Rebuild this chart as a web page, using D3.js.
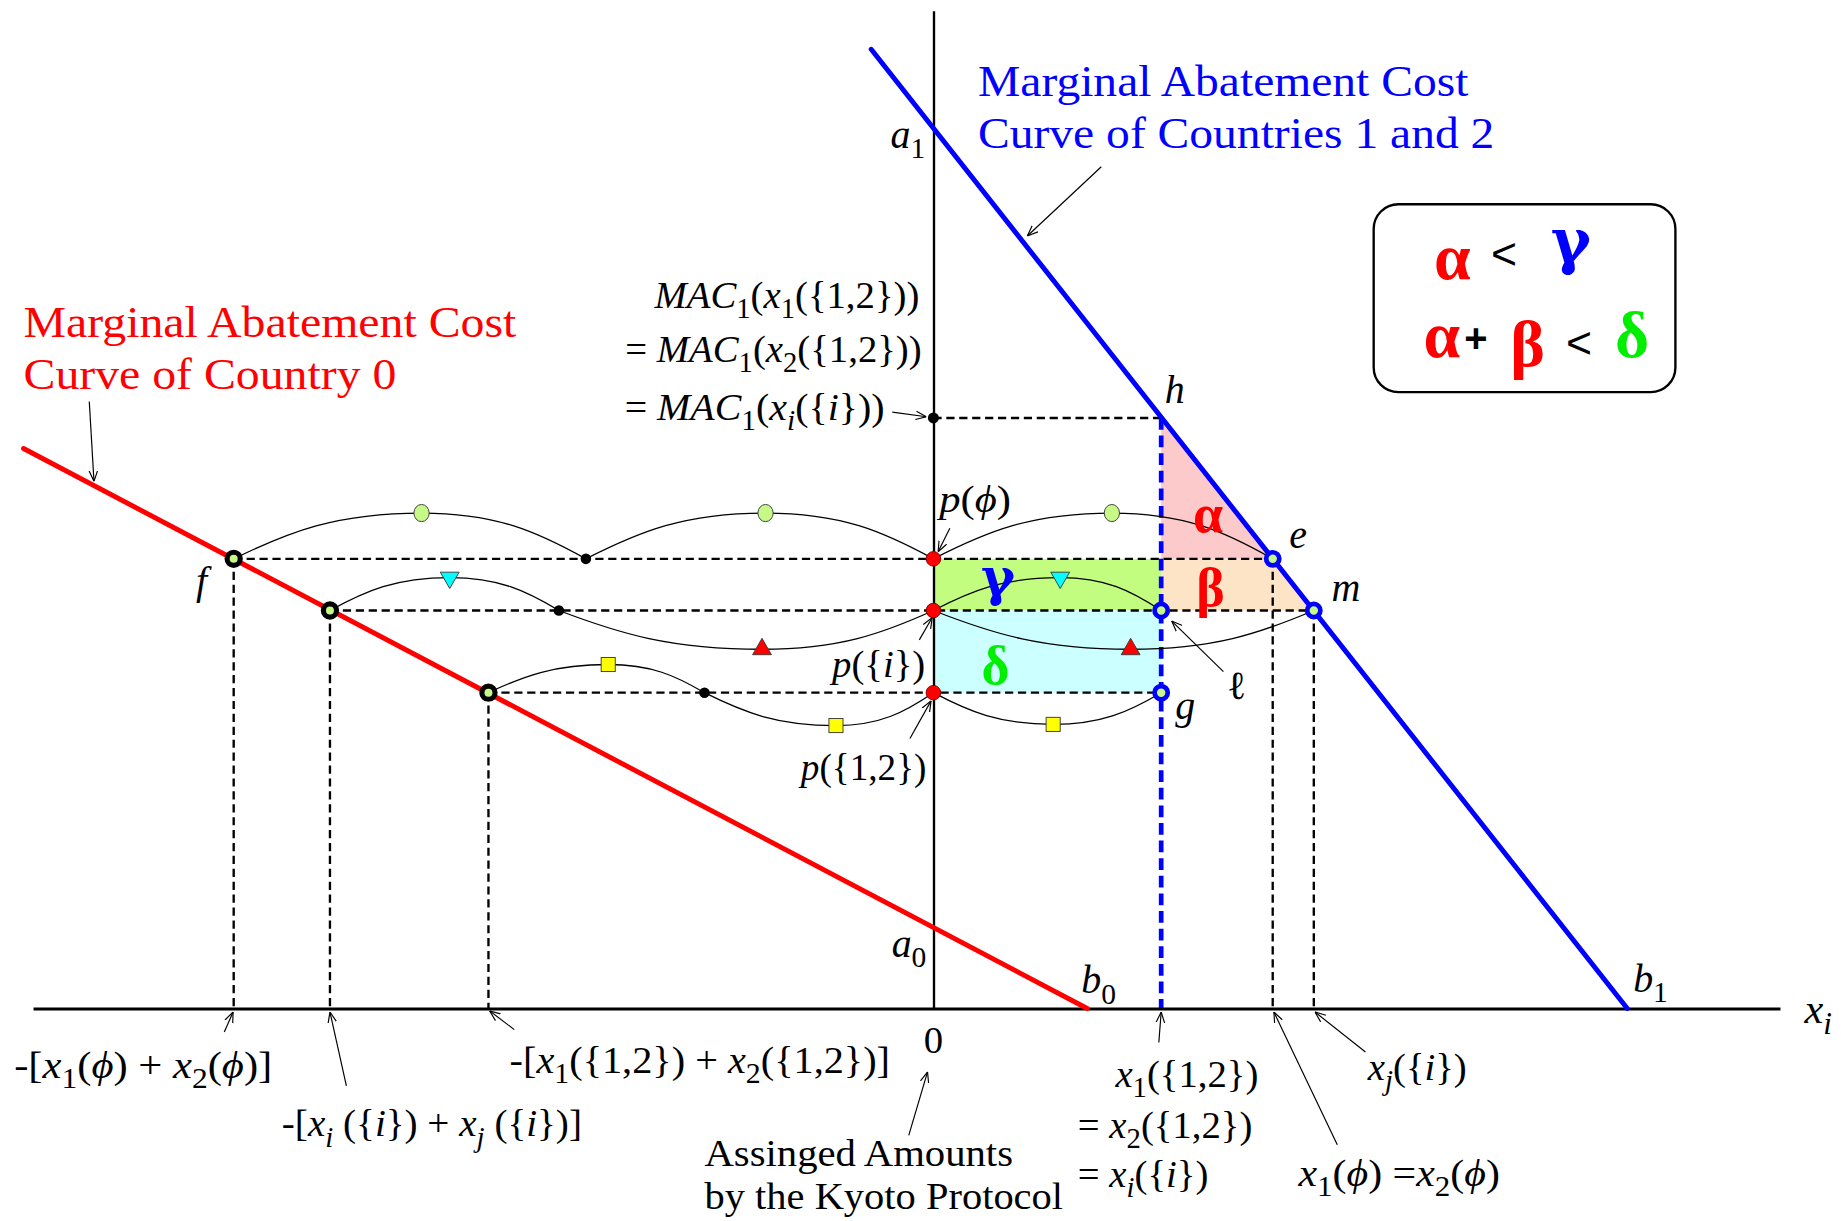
<!DOCTYPE html>
<html>
<head>
<meta charset="utf-8">
<script src="https://cdn.jsdelivr.net/npm/d3@7"></script>
<style>
  html, body { margin: 0; padding: 0; background: #fff; }
  svg { display: block; }
  text { white-space: pre; }
</style>
</head>
<body>
<script>
// ---------------- values (quantity x, price y) ----------------
// Marginal abatement cost curves, drawn between their two end points
const mac0Line  = [[-77.5, 47.7], [13.1, 0]];   // Country 0, ends at b0
const mac12Line = [[-5.3, 81.7], [59.1, 0]];    // Countries 1 and 2, ends at b1

// price levels: MAC1(x1({1,2})), p(φ), p({i}), p({1,2})
const priceMAC = 50.3;
const pPhi = 38.3;
const pI = 33.9;
const p12 = 26.9;

// quantities read on the Country 0 curve at p(φ), p({i}), p({1,2})
const country0Qty = [-59.6, -51.4, -37.9];
const country0Price = [38.3, 33.9, 26.9];
// quantities of countries 1 and 2
const qty12 = 19.4;   // x1({1,2}) = x2({1,2}) = xi({i})
const qtyPhi = 28.9;  // x1(φ) = x2(φ)
const qtyJ = 32.4;    // xj({i})
// split points between the two countries' shares
const splitQty = [-29.6, -31.9, -19.5];

// transfer arcs: from, to, price level, extremum x, extremum price, marker
const arcFrom   = [-59.6, -29.6, 0,    -51.4, -31.9, 0,    0,    -37.9, -19.5, 0];
const arcTo     = [-29.6, 0,     28.9, -31.9, 0,     19.4, 32.4, -19.5, 0,     19.4];
const arcLevel  = [38.3,  38.3,  38.3, 33.9,  33.9,  33.9, 33.9, 26.9,  26.9,  26.9];
const arcPeakX  = [-43.6, -14.3, 15.2, -41.2, -14.6, 10.8, 16.8, -27.7, -8.3,  10.2];
const arcPeakY  = [42.2,  42.2,  42.2, 36.7,  30.6,  36.7, 30.6, 29.3,  24.1,  24.2];
const arcMarker = ["circle", "circle", "circle", "triDown", "triUp", "triDown", "triUp", "square", "square", "square"];

// ---------------- layout ----------------
const VW = 1568, VH = 1040;
const svg = d3.select("body").append("svg")
  .attr("width", 1841).attr("height", 1221)
  .attr("viewBox", `0 0 ${VW} ${VH}`);

const x = d3.scaleLinear().domain([-80, 75]).range([-5, 1545]);
const y = d3.scaleLinear().domain([0, 85]).range([859, 9]);

const SERIF = "'Liberation Serif', 'Times New Roman', serif";
const GREEK_ALT = "'DejaVu Serif', serif";
const SANS = "'Liberation Sans', Arial, sans-serif";
const RED = "#ff0000", BLUE = "#0000ff", GREEN = "#00ee00";
const MARKER_GREEN = "#c6f986";

const defs = svg.append("defs");
defs.append("marker")
  .attr("id", "arrowhead").attr("viewBox", "0 0 10 10")
  .attr("refX", 10).attr("refY", 5)
  .attr("markerWidth", 9).attr("markerHeight", 9)
  .attr("markerUnits", "userSpaceOnUse").attr("orient", "auto")
  .append("path").attr("d", "M0,1 L10,5 L0,9")
  .attr("fill", "none").attr("stroke", "#000").attr("stroke-width", 1.1);

const line = d3.line().x(d => x(d[0])).y(d => y(d[1]));

// ---------------- shaded areas ----------------
const areas = svg.append("g");
areas.append("path") // alpha
  .attr("d", line([[qty12, priceMAC], [qtyPhi, pPhi], [qty12, pPhi]]) + "Z")
  .attr("fill", "#fccaca");
areas.append("path") // beta
  .attr("d", line([[qty12, pPhi], [qtyPhi, pPhi], [qtyJ, pI], [qty12, pI]]) + "Z")
  .attr("fill", "#fde4c6");
areas.append("rect") // gamma
  .attr("x", x(0)).attr("y", y(pPhi))
  .attr("width", x(qty12) - x(0)).attr("height", y(pI) - y(pPhi))
  .attr("fill", "#c2fd80");
areas.append("rect") // delta
  .attr("x", x(0)).attr("y", y(pI))
  .attr("width", x(qty12) - x(0)).attr("height", y(p12) - y(pI))
  .attr("fill", "#ccffff");

// ---------------- dashed guide lines ----------------
const guides = svg.append("g").attr("fill", "none").attr("stroke", "#000")
  .attr("stroke-width", 2).attr("stroke-dasharray", "7,4");
const hGuides = [
  [[country0Qty[0], pPhi], [qtyPhi, pPhi]],
  [[country0Qty[1], pI], [qtyJ, pI]],
  [[country0Qty[2], p12], [qty12, p12]],
  [[0, priceMAC], [qty12, priceMAC]]
];
const vGuides = [
  [[country0Qty[0], pPhi], [country0Qty[0], 0]],
  [[country0Qty[1], pI], [country0Qty[1], 0]],
  [[country0Qty[2], p12], [country0Qty[2], 0]],
  [[qtyPhi, pPhi], [qtyPhi, 0]],
  [[qtyJ, pI], [qtyJ, 0]]
];
hGuides.concat(vGuides).forEach(seg => guides.append("path").attr("d", line(seg)));

svg.append("path")
  .attr("d", line([[qty12, priceMAC], [qty12, 0]]))
  .attr("fill", "none").attr("stroke", BLUE)
  .attr("stroke-width", 4).attr("stroke-dasharray", "10,5");

// ---------------- axes ----------------
const xAxisScale = x.copy().domain([-76.7, 72.1]).range([x(-76.7), x(72.1)]);
svg.append("g").attr("transform", `translate(0,${y(0)})`)
  .call(d3.axisBottom(xAxisScale).tickValues([]).tickSizeOuter(0))
  .call(g => g.select(".domain").attr("stroke", "#000").attr("stroke-width", 2.6));
svg.append("g").attr("transform", `translate(${x(0)},0)`)
  .call(d3.axisLeft(y).tickValues([]).tickSizeOuter(0))
  .call(g => g.select(".domain").attr("stroke", "#000").attr("stroke-width", 2));

// ---------------- MAC curves ----------------
svg.append("path").attr("d", line(mac0Line))
  .attr("stroke", RED).attr("stroke-width", 4.2).attr("stroke-linecap", "round").attr("fill", "none");
svg.append("path").attr("d", line(mac12Line))
  .attr("stroke", BLUE).attr("stroke-width", 4.2).attr("stroke-linecap", "round").attr("fill", "none");

// ---------------- transfer arcs ----------------
function arcPath(i) {
  const x0 = x(arcFrom[i]), x1 = x(arcTo[i]), yl = y(arcLevel[i]);
  const xp = x(arcPeakX[i]), yp = y(arcPeakY[i]);
  const p = d3.path();
  p.moveTo(x0, yl);
  p.bezierCurveTo(x0 + 0.3 * (xp - x0), yl + 0.6 * (yp - yl), xp - 0.45 * (xp - x0), yp, xp, yp);
  p.bezierCurveTo(xp + 0.45 * (x1 - xp), yp, x1 - 0.3 * (x1 - xp), yl + 0.6 * (yp - yl), x1, yl);
  return p.toString();
}
const arcsG = svg.append("g");
arcFrom.forEach((_, i) => {
  arcsG.append("path").attr("d", arcPath(i))
    .attr("fill", "none").attr("stroke", "#000").attr("stroke-width", 1.1);
});

const triSym = d3.symbol().type(d3.symbolTriangle).size(112);
arcFrom.forEach((_, i) => {
  const cx = x(arcPeakX[i]), cy = y(arcPeakY[i]);
  const kind = arcMarker[i];
  if (kind === "circle") {
    arcsG.append("ellipse").attr("cx", cx).attr("cy", cy).attr("rx", 6.5).attr("ry", 7.3)
      .attr("fill", MARKER_GREEN).attr("stroke", "#3a3a3a").attr("stroke-width", 0.8);
  } else if (kind === "square") {
    arcsG.append("rect").attr("x", cx - 6).attr("y", cy - 6).attr("width", 12).attr("height", 12)
      .attr("fill", "#ffff00").attr("stroke", "#3a3a3a").attr("stroke-width", 0.8);
  } else {
    arcsG.append("path").attr("d", triSym())
      .attr("transform", `translate(${cx},${cy})` + (kind === "triDown" ? " rotate(180)" : ""))
      .attr("fill", kind === "triDown" ? "#00ffff" : "#ff0000")
      .attr("stroke", "#3a3a3a").attr("stroke-width", 0.8);
  }
});

// ---------------- points ----------------
const pts = svg.append("g");
// split points between shares
splitQty.forEach((q, k) => {
  pts.append("circle").attr("cx", x(q)).attr("cy", y(country0Price[k])).attr("r", 4.5).attr("fill", "#000");
});
// MAC level on the price axis
pts.append("circle").attr("cx", x(0)).attr("cy", y(priceMAC)).attr("r", 4.7).attr("fill", "#000");
// prices on the axis
[pPhi, pI, p12].forEach(p => {
  pts.append("circle").attr("cx", x(0)).attr("cy", y(p)).attr("r", 6.2)
    .attr("fill", RED).attr("stroke", "#8a0000").attr("stroke-width", 0.8);
});
// Country 0 points
country0Qty.forEach((q, k) => {
  pts.append("circle").attr("cx", x(q)).attr("cy", y(country0Price[k])).attr("r", 5.6)
    .attr("fill", MARKER_GREEN).attr("stroke", "#000").attr("stroke-width", 4.4);
});
// Countries 1 and 2 points: e, m, l, g
[[qtyPhi, pPhi], [qtyJ, pI], [qty12, pI], [qty12, p12]].forEach(d => {
  pts.append("circle").attr("cx", x(d[0])).attr("cy", y(d[1])).attr("r", 5.6)
    .attr("fill", MARKER_GREEN).attr("stroke", BLUE).attr("stroke-width", 4);
});

// ---------------- text helpers ----------------
// "~" toggles italic, "_c" sets the next character as a subscript
function label(str, px, py, opt = {}) {
  const size = opt.size || 33;
  const g = svg.append("g")
    .attr("transform", `translate(${px},${py}) scale(${opt.sx || 1},1)`);
  const t = g.append("text")
    .attr("font-family", opt.family || SERIF)
    .attr("font-size", size)
    .attr("font-weight", opt.weight || "normal")
    .attr("text-anchor", opt.anchor || "start")
    .attr("fill", opt.fill || "#000");
  const segs = [];
  let italic = false;
  for (let i = 0; i < str.length; i++) {
    const c = str[i];
    if (c === "~") { italic = !italic; continue; }
    if (c === "_") { segs.push({ t: str[i + 1], it: italic, sub: true }); i++; continue; }
    const last = segs[segs.length - 1];
    if (last && !last.sub && last.it === italic) last.t += c;
    else segs.push({ t: c, it: italic, sub: false });
  }
  let cur = 0;
  segs.forEach(s => {
    const ts = t.append("tspan").text(s.t).attr("font-style", s.it ? "italic" : "normal");
    const target = s.sub ? size * 0.26 : 0;
    if (target !== cur) { ts.attr("dy", target - cur); cur = target; }
    if (s.sub) ts.attr("font-size", size * 0.74);
  });
  return t;
}
function arrow(x1, y1, x2, y2) {
  svg.append("line").attr("x1", x1).attr("y1", y1).attr("x2", x2).attr("y2", y2)
    .attr("stroke", "#000").attr("stroke-width", 1).attr("marker-end", "url(#arrowhead)");
}

// ---------------- curve titles ----------------
label("Marginal Abatement Cost", 20, 287, { size: 37, fill: RED, sx: 1.1 });
label("Curve of Country 0", 20, 331, { size: 37, fill: RED, sx: 1.1 });
arrow(76, 342, x(-71.5), y(44.5) - 4);

label("Marginal Abatement Cost", 833, 82, { size: 37, fill: BLUE, sx: 1.095 });
label("Curve of Countries 1 and 2", 833, 126, { size: 37, fill: BLUE, sx: 1.095 });
arrow(938, 142, x(7.8) + 2, y(65.8));

// ---------------- point labels ----------------
label("~a~_1", x(0) - 7, y(75) + 17, { size: 34, anchor: "end" });
label("~a~_0", x(0) - 6, 815, { size: 34, anchor: "end" });
label("~b~_0", x(mac0Line[1][0]) - 5, 846, { size: 34 });
label("~b~_1", x(mac12Line[1][0]) + 5, 845, { size: 34 });
label("~x_i~", 1537, 871, { size: 36 });
label("~h~", x(qty12) + 3, y(priceMAC) - 13, { size: 34 });
label("~e~", x(qtyPhi) + 14, y(pPhi) - 9, { size: 34 });
label("~m~", x(qtyJ) + 15, y(pI) - 8, { size: 34 });
label("~f~", x(country0Qty[0]) - 32, y(pPhi) + 30, { size: 34 });
label("~g~", x(qty12) + 12, y(p12) + 22, { size: 34 });
label("ℓ", x(qty12) + 56, y(pI) + 75, { size: 34 });
arrow(1042, 572, x(qty12) + 9, y(pI) + 9);

label("~p~(~ϕ~)", 800, 436, { size: 33, sx: 1.1 });
arrow(809, 450, x(0) + 4, y(pPhi) - 6);
label("~p~({~i~})", 788, 577, { size: 33, anchor: "end" });
arrow(783, 545, x(0) - 1, y(pI) + 6);
label("~p~({1,2})", 789, 664, { size: 33, anchor: "end", sx: 0.96 });
arrow(775, 629, x(0) - 2, y(p12) + 7);

label("~MAC~_1(~x~_1({1,2}))", 783, 262, { size: 33, anchor: "end" });
label("= ~MAC~_1(~x~_2({1,2}))", 785, 308, { size: 33, anchor: "end" });
label("= ~MAC~_1(~x_i~({~i~}))", 532, 358, { size: 33, sx: 1.03 });
arrow(760, 351, x(0) - 6, y(priceMAC) - 1);

// ---------------- area symbols ----------------
label("α", 1029, 453, { size: 46, fill: RED, weight: "bold", anchor: "middle" });
label("β", 1031, 516, { size: 46, fill: RED, weight: "bold", anchor: "middle" });
label("γ", 850, 507, { size: 44, fill: BLUE, weight: "bold", anchor: "middle", family: GREEK_ALT });
label("δ", 848, 583, { size: 46, fill: GREEN, weight: "bold", anchor: "middle" });

// ---------------- inequality box ----------------
svg.append("rect").attr("x", 1170).attr("y", 174).attr("width", 257).attr("height", 160)
  .attr("rx", 21).attr("fill", "#fff").attr("stroke", "#000").attr("stroke-width", 2);
label("α", 1237, 238, { size: 56, fill: RED, weight: "bold", anchor: "middle" });
label("<", 1281, 229, { size: 38, family: SANS, anchor: "middle" });
label("γ", 1338, 223, { size: 52, fill: BLUE, weight: "bold", anchor: "middle", family: GREEK_ALT });
label("α", 1228, 304, { size: 56, fill: RED, weight: "bold", anchor: "middle" });
label("+", 1257, 300, { size: 34, family: SANS, weight: "bold", anchor: "middle" });
label("β", 1301, 312, { size: 56, fill: RED, weight: "bold", anchor: "middle" });
label("<", 1345, 305, { size: 38, family: SANS, anchor: "middle" });
label("δ", 1390, 304, { size: 56, fill: GREEN, weight: "bold", anchor: "middle" });

// ---------------- quantity labels ----------------
label("-[~x~_1(~ϕ~) + ~x~_2(~ϕ~)]", 12, 918, { size: 33, sx: 1.1 });
arrow(191, 879, x(country0Qty[0]) - 0.5, y(0) + 3);
label("-[~x_i~ ({~i~}) + ~x_j~ ({~i~})]", 240, 968, { size: 33, sx: 1.01 });
arrow(295, 925, x(country0Qty[1]), y(0) + 3);
label("-[~x~_1({1,2}) + ~x~_2({1,2})]", 434, 914, { size: 33, sx: 1.04 });
arrow(438, 877, x(country0Qty[2]) + 1, y(0) + 2);

label("0", x(0), 897, { size: 33, anchor: "middle" });
label("Assinged Amounts", 600, 993, { size: 33, sx: 1.05 });
label("by the Kyoto Protocol", 600, 1030, { size: 33, sx: 1.045 });
arrow(774, 967, x(0) - 5, 913);

label("~x~_1({1,2})", 950, 926, { size: 33 });
label("= ~x~_2({1,2})", 918, 969, { size: 33 });
label("= ~x_i~({~i~})", 918, 1011, { size: 33 });
arrow(987, 888, x(qty12), y(0) + 3);

label("~x_j~({~i~})", 1165, 920, { size: 33 });
arrow(1163, 896, x(qtyJ) + 1, y(0) + 3);
label("~x~_1(~ϕ~) =~x~_2(~ϕ~)", 1106, 1010, { size: 33, sx: 1.08 });
arrow(1139, 975, x(qtyPhi) + 1, y(0) + 3);
</script>
</body>
</html>
